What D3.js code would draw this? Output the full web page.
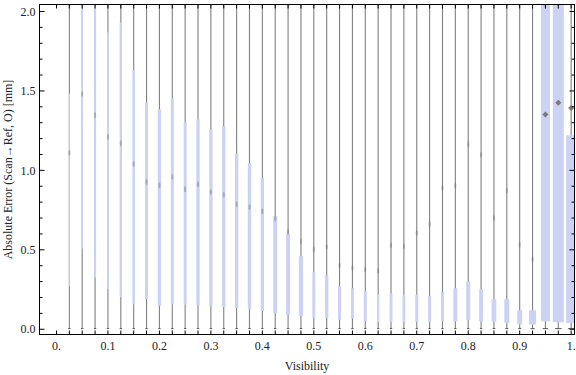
<!DOCTYPE html>
<html><head><meta charset="utf-8">
<script src="https://cdn.jsdelivr.net/npm/d3@7"></script>
<style>body{margin:0;background:#fff}svg{display:block}</style>
</head><body>
<script>
// Visibility bins
const visibility = [0.025,0.05,0.075,0.1,0.125,0.15,0.175,0.2,0.225,0.25,0.275,0.3,0.325,0.35,0.375,0.4,0.425,0.45,0.475,0.5,0.525,0.55,0.575,0.6,0.625,0.65,0.675,0.7,0.725,0.75,0.775,0.8,0.825,0.85,0.875,0.9,0.925,0.95,0.975,1.0];
// lower whisker (min)
const whiskerLow = visibility.map(() => 0.004);
// upper whisker (max) - all beyond plot range
const whiskerHigh = visibility.map(() => 2.6);
// first quartile
const q1 = [0.271,0.508,0.325,0.252,0.203,0.157,0.189,0.147,0.157,0.155,0.151,0.145,0.140,0.134,0.124,0.115,0.103,0.090,0.084,0.071,0.071,0.060,0.067,0.052,0.046,0.046,0.046,0.046,0.046,0.050,0.050,0.057,0.050,0.050,0.040,0.031,0.030,0.050,0.044,0.040];
// third quartile
const q3 = [1.483,2.3,2.3,1.868,1.930,1.630,1.427,1.385,1.454,1.303,1.322,1.259,1.278,1.106,1.045,0.951,0.711,0.602,0.460,0.359,0.340,0.271,0.258,0.239,0.218,0.227,0.214,0.218,0.210,0.233,0.258,0.302,0.252,0.189,0.189,0.120,0.120,2.3,2.3,1.221];
// central marker
const center = [1.11,1.48,1.347,1.21,1.17,1.04,0.927,0.907,0.959,0.881,0.913,0.864,0.846,0.787,0.770,0.743,0.697,0.613,0.550,0.502,0.518,0.403,0.386,0.376,0.367,0.529,0.522,0.606,0.661,0.889,0.905,1.165,1.10,0.700,0.873,0.533,0.441,1.351,1.425,1.393];
// relative sample weight (drives box width)
const weight = [0.09,0.14,0.18,0.18,0.21,0.23,0.27,0.3,0.27,0.27,0.3,0.3,0.3,0.3,0.3,0.3,0.36,0.36,0.39,0.27,0.3,0.27,0.27,0.27,0.21,0.27,0.25,0.27,0.27,0.27,0.36,0.36,0.36,0.43,0.45,0.45,0.64,0.82,1.0,0.91];
const yTicks = [0,0.5,1,1.5,2];
const yTickLabels = ["0.0","0.5","1.0","1.5","2.0"];
const xTicks = [0,0.1,0.2,0.3,0.4,0.5,0.6,0.7,0.8,0.9,1.0];
const xTickLabels = ["0.","0.1","0.2","0.3","0.4","0.5","0.6","0.7","0.8","0.9","1."];

const W = 576, H = 375;
const L = 39.5, R = 574.5, T = 4.5, B = 334.5;
const svg = d3.select("body").append("svg").attr("width", W).attr("height", H);
const x = d3.scaleLinear().domain([-0.033, 1.0065]).range([L, R]);
const y = d3.scaleLinear().domain([-0.033, 2.044]).range([B, T]);
const wScale = d3.scaleLinear().domain([0, 1]).range([0, 11]);
const font = "'Liberation Serif', 'Times New Roman', serif";

svg.append("clipPath").attr("id","clip").append("rect")
  .attr("x", L).attr("y", T).attr("width", R - L).attr("height", B - T);
const g = svg.append("g").attr("clip-path","url(#clip)");

const data = visibility.map((v,i) => ({v, lo: whiskerLow[i], hi: whiskerHigh[i], q1: q1[i], q3: q3[i], c: center[i], w: wScale(weight[i])}));

// whiskers
g.selectAll("line.wh").data(data).join("line")
  .attr("x1", d => x(d.v)).attr("x2", d => x(d.v))
  .attr("y1", d => y(d.lo)).attr("y2", d => y(d.hi))
  .attr("stroke", "#808080").attr("stroke-width", 1.1);
// caps
g.selectAll("line.cap").data(data).join("line")
  .attr("x1", d => x(d.v) - Math.max(1.2, d.w*0.3)).attr("x2", d => x(d.v) + Math.max(1.2, d.w*0.3))
  .attr("y1", d => y(d.lo)).attr("y2", d => y(d.lo))
  .attr("stroke", "#555").attr("stroke-width", 1);
// boxes
g.selectAll("rect.box").data(data).join("rect")
  .attr("x", d => x(d.v) - d.w/2).attr("width", d => d.w)
  .attr("y", d => y(d.q3)).attr("height", d => y(d.q1) - y(d.q3))
  .attr("fill", "#cbd2f4");
// center markers
data.forEach(d => {
  if (d.w > 8) {
    const cx = x(d.v), cy = y(d.c), s = 3;
    g.append("path").attr("d", `M${cx},${cy-s}L${cx+s},${cy}L${cx},${cy+s}L${cx-s},${cy}Z`)
      .attr("fill", "#7a7a7a");
  } else {
    g.append("ellipse").attr("cx", x(d.v)).attr("cy", y(d.c))
      .attr("rx", 1.1).attr("ry", 3).attr("fill", "#6f6f6f").attr("opacity", 0.42);
  }
});

// frame
const axG = svg.append("g");
axG.append("rect").attr("x", L).attr("y", T).attr("width", R-L).attr("height", B-T)
  .attr("fill","none").attr("stroke","#000").attr("stroke-width",1);

// y ticks: left and right, major and minor
const yMinor = d3.range(0, 2.01, 0.1).map(v => +v.toFixed(2));
yMinor.forEach(v => {
  const major = yTicks.some(t => Math.abs(t - v) < 1e-6);
  const len = major ? 5 : 3;
  axG.append("line").attr("x1", L).attr("x2", L+len).attr("y1", y(v)).attr("y2", y(v)).attr("stroke","#000");
  axG.append("line").attr("x1", R).attr("x2", R-len).attr("y1", y(v)).attr("y2", y(v)).attr("stroke","#000");
});
// x ticks top and bottom at each bin
const xAll = [0].concat(visibility);
xAll.forEach(v => {
  axG.append("line").attr("x1", x(v)).attr("x2", x(v)).attr("y1", B).attr("y2", B-4).attr("stroke","#000");
  axG.append("line").attr("x1", x(v)).attr("x2", x(v)).attr("y1", T).attr("y2", T+4).attr("stroke","#000");
});

// tick labels
axG.selectAll("text.yl").data(yTicks).join("text")
  .attr("x", L - 4).attr("y", d => y(d)).attr("dy", "0.35em")
  .attr("text-anchor","end").attr("font-family", font).attr("font-size", 12).attr("fill","#222")
  .text((d,i) => yTickLabels[i]);
axG.selectAll("text.xl").data(xTicks).join("text")
  .attr("x", d => x(d)).attr("y", 350)
  .attr("text-anchor","middle").attr("font-family", font).attr("font-size", 12).attr("fill","#222")
  .text((d,i) => xTickLabels[i]);

// axis titles
svg.append("text").attr("x", (L+R)/2).attr("y", 370).attr("text-anchor","middle")
  .attr("font-family", font).attr("font-size", 12).attr("fill","#222").text("Visibility");
svg.append("text").attr("transform", `translate(12,${(T+B)/2}) rotate(-90)`).attr("text-anchor","middle")
  .attr("font-family", font).attr("font-size", 12).attr("fill","#222").text("Absolute Error (Scan\u2192Ref, O) [mm]");
</script>
</body></html>
